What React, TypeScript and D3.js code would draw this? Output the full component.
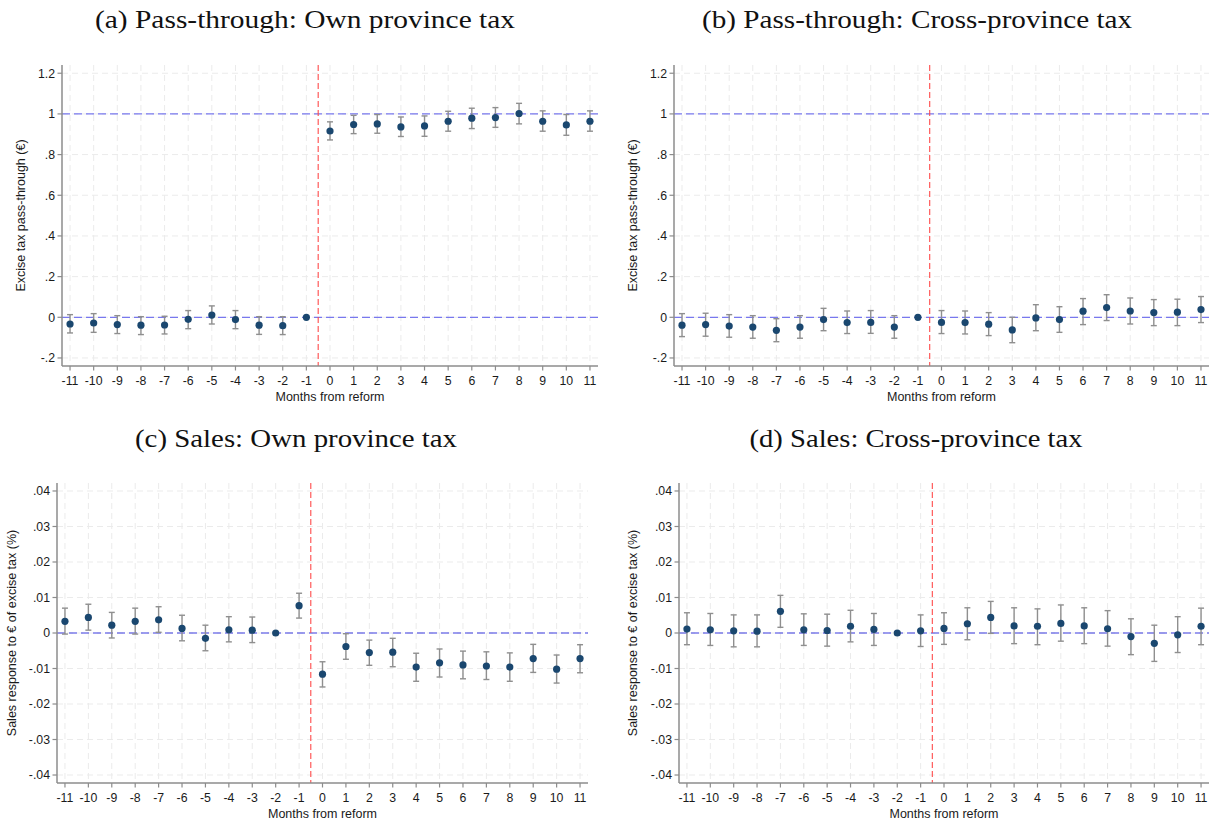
import React from "react";
import * as d3 from "d3";

// Event-study coefficients by month relative to the reform (omitted period has no CI)
const months = [-11, -10, -9, -8, -7, -6, -5, -4, -3, -2, -1, 0, 1, 2, 3, 4, 5, 6, 7, 8, 9, 10, 11];

const aEst = [-0.033, -0.028, -0.036, -0.039, -0.038, -0.010, 0.011, -0.011, -0.039, -0.041, 0, 0.916, 0.948, 0.951, 0.936, 0.941, 0.964, 0.979, 0.982, 1.002, 0.964, 0.946, 0.964];
const aLo = [-0.077, -0.074, -0.080, -0.085, -0.082, -0.056, -0.033, -0.056, -0.084, -0.085, null, 0.872, 0.903, 0.905, 0.889, 0.890, 0.915, 0.928, 0.934, 0.951, 0.915, 0.895, 0.915];
const aHi = [0.013, 0.018, 0.008, 0.003, 0.005, 0.033, 0.056, 0.033, 0.003, 0.003, null, 0.961, 0.993, 0.997, 0.985, 0.990, 1.013, 1.028, 1.031, 1.052, 1.015, 0.997, 1.015];

const bEst = [-0.039, -0.036, -0.043, -0.048, -0.064, -0.048, -0.011, -0.026, -0.025, -0.048, 0, -0.025, -0.026, -0.034, -0.062, -0.003, -0.011, 0.030, 0.048, 0.031, 0.023, 0.025, 0.038];
const bLo = [-0.095, -0.093, -0.098, -0.103, -0.120, -0.103, -0.066, -0.080, -0.079, -0.103, null, -0.080, -0.082, -0.090, -0.125, -0.066, -0.074, -0.036, -0.016, -0.033, -0.041, -0.041, -0.026];
const bHi = [0.018, 0.020, 0.013, 0.008, -0.007, 0.008, 0.044, 0.031, 0.033, 0.008, null, 0.033, 0.031, 0.023, 0.000, 0.062, 0.052, 0.092, 0.111, 0.095, 0.087, 0.089, 0.102];

const cEst = [0.0033, 0.0044, 0.0022, 0.0033, 0.0037, 0.0013, -0.0015, 0.0009, 0.0008, 0, 0.0077, -0.0116, -0.0038, -0.0055, -0.0054, -0.0096, -0.0084, -0.0090, -0.0093, -0.0096, -0.0072, -0.0102, -0.0072];
const cLo = [-0.0003, 0.0008, -0.0014, -0.0003, 0.0002, -0.0022, -0.0050, -0.0025, -0.0027, null, 0.0042, -0.0152, -0.0074, -0.0091, -0.0095, -0.0136, -0.0124, -0.0129, -0.0131, -0.0136, -0.0111, -0.0141, -0.0112];
const cHi = [0.0070, 0.0081, 0.0058, 0.0070, 0.0074, 0.0050, 0.0022, 0.0046, 0.0045, null, 0.0112, -0.0081, -0.0002, -0.0020, -0.0015, -0.0057, -0.0045, -0.0051, -0.0053, -0.0056, -0.0032, -0.0062, -0.0033];

const dEst = [0.0011, 0.0009, 0.0006, 0.0005, 0.0061, 0.0009, 0.0007, 0.0019, 0.0010, 0, 0.0006, 0.0013, 0.0026, 0.0044, 0.0020, 0.0019, 0.0027, 0.0020, 0.0012, -0.0010, -0.0029, -0.0005, 0.0019];
const dLo = [-0.0033, -0.0035, -0.0039, -0.0039, 0.0016, -0.0035, -0.0037, -0.0025, -0.0035, null, -0.0038, -0.0032, -0.0019, -0.0001, -0.0030, -0.0033, -0.0023, -0.0030, -0.0037, -0.0061, -0.0080, -0.0055, -0.0033];
const dHi = [0.0057, 0.0055, 0.0051, 0.0051, 0.0106, 0.0054, 0.0053, 0.0064, 0.0055, null, 0.0051, 0.0057, 0.0071, 0.0089, 0.0071, 0.0068, 0.0079, 0.0071, 0.0063, 0.0040, 0.0022, 0.0046, 0.0070];

const passTicks = [-0.2, 0, 0.2, 0.4, 0.6, 0.8, 1, 1.2];
const passTickLabels = ["-.2", "0", ".2", ".4", ".6", ".8", "1", "1.2"];
const salesTicks = [-0.04, -0.03, -0.02, -0.01, 0, 0.01, 0.02, 0.03, 0.04];
const salesTickLabels = ["-.04", "-.03", "-.02", "-.01", "0", ".01", ".02", ".03", ".04"];

const titles = [
  "(a) Pass-through: Own province tax",
  "(b) Pass-through: Cross-province tax",
  "(c) Sales: Own province tax",
  "(d) Sales: Cross-province tax",
];
const passYTitle = "Excise tax pass-through (\u20ac)";
const salesYTitle = "Sales response to \u20ac of excise tax (%)";
const xTitle = "Months from reform";

const SANS = "'Liberation Sans', Arial, Helvetica, sans-serif";
const SERIF = "'Liberation Serif', 'Times New Roman', serif";

type PanelProps = {
  title: string;
  titleX: number;
  titleY: number;
  titleWidth: number;
  left: number;
  right: number;
  top: number;
  bottom: number;
  yDomain: [number, number];
  ticks: number[];
  tickLabels: string[];
  refLines: number[];
  refColor: string;
  yTitle: string;
  yTitleX: number;
  est: number[];
  lo: (number | null)[];
  hi: (number | null)[];
};

function Panel(p: PanelProps) {
  const x = d3.scaleLinear().domain([-11.34, 11.34]).range([p.left, p.right]);
  const y = d3.scaleLinear().domain(p.yDomain).range([p.bottom, p.top]);
  const axisColor = "#8c8c8c";
  const gridColor = "#ebebeb";
  return (
    <g>
      <text
        x={p.titleX - p.titleWidth / 2}
        y={p.titleY}
        textLength={p.titleWidth}
        lengthAdjust="spacingAndGlyphs"
        fontFamily={SERIF}
        fontSize={26}
        fill="#111"
      >
        {p.title}
      </text>
      {/* grid */}
      {months.map((m) => (
        <line key={"gx" + m} x1={x(m)} x2={x(m)} y1={p.top} y2={p.bottom} stroke={gridColor} strokeWidth={1} strokeDasharray="6,4" />
      ))}
      {p.ticks.map((t) => (
        <line key={"gy" + t} x1={p.left} x2={p.right} y1={y(t)} y2={y(t)} stroke={gridColor} strokeWidth={1} strokeDasharray="6,4" />
      ))}
      {/* reference lines */}
      {p.refLines.map((r) => (
        <line key={"r" + r} x1={p.left} x2={p.right} y1={y(r)} y2={y(r)} stroke={p.refColor} strokeWidth={1.2} strokeDasharray="8,4" />
      ))}
      <line x1={x(-0.5)} x2={x(-0.5)} y1={p.top} y2={p.bottom} stroke="#ff4a4a" strokeWidth={1.1} strokeDasharray="6,3" />
      {/* confidence intervals */}
      {months.map((m, i) => {
        const l = p.lo[i];
        const h = p.hi[i];
        if (l == null || h == null) return null;
        const cx = x(m);
        return (
          <g key={"ci" + m} stroke="#8f8f8f" strokeWidth={1.4}>
            <line x1={cx} x2={cx} y1={y(l)} y2={y(h)} />
            <line x1={cx - 3} x2={cx + 3} y1={y(l)} y2={y(l)} />
            <line x1={cx - 3} x2={cx + 3} y1={y(h)} y2={y(h)} />
          </g>
        );
      })}
      {/* point estimates */}
      {months.map((m, i) => (
        <circle key={"pt" + m} cx={x(m)} cy={y(p.est[i])} r={3.6} fill="#1a476f" />
      ))}
      {/* axes */}
      <line x1={p.left} x2={p.left} y1={p.top} y2={p.bottom} stroke={axisColor} strokeWidth={1.5} />
      <line x1={p.left} x2={p.right} y1={p.bottom} y2={p.bottom} stroke={axisColor} strokeWidth={1.5} />
      {p.ticks.map((t, i) => (
        <g key={"yt" + t}>
          <line x1={p.left - 4.5} x2={p.left} y1={y(t)} y2={y(t)} stroke={axisColor} strokeWidth={1.2} />
          <text x={p.left - 7} y={y(t)} dy="0.35em" textAnchor="end" fontFamily={SANS} fontSize={12.3} fill="#1a1a1a">
            {p.tickLabels[i]}
          </text>
        </g>
      ))}
      {months.map((m) => (
        <g key={"xt" + m}>
          <line x1={x(m)} x2={x(m)} y1={p.bottom} y2={p.bottom + 4.5} stroke={axisColor} strokeWidth={1.2} />
          <text x={x(m)} y={p.bottom + 18.5} textAnchor="middle" fontFamily={SANS} fontSize={12.3} fill="#1a1a1a">
            {String(m)}
          </text>
        </g>
      ))}
      <text x={(p.left + p.right) / 2} y={p.bottom + 34.5} textAnchor="middle" fontFamily={SANS} fontSize={12.5} fill="#1a1a1a">
        {xTitle}
      </text>
      <text
        transform={`translate(${p.yTitleX},${(p.top + p.bottom) / 2}) rotate(-90)`}
        dy="0.35em"
        textAnchor="middle"
        fontFamily={SANS}
        fontSize={12.5}
        fill="#1a1a1a"
      >
        {p.yTitle}
      </text>
    </g>
  );
}

export default function App() {
  const passDomain: [number, number] = [-0.2395, 1.2405];
  const salesDomain: [number, number] = [-0.04225, 0.04225];
  return (
    <div style={{ position: "absolute", left: 0, top: 0 }}>
      <svg width={1214} height={828} style={{ display: "block", background: "#fff" }}>
        <rect width={1214} height={828} fill="#fff" />
        <Panel
          title={titles[0]} titleX={305} titleY={28} titleWidth={420}
          left={62} right={598} top={65} bottom={366}
          yDomain={passDomain} ticks={passTicks} tickLabels={passTickLabels}
          refLines={[0, 1]} refColor="#7878ee"
          yTitle={passYTitle} yTitleX={21}
          est={aEst} lo={aLo} hi={aHi}
        />
        <Panel
          title={titles[1]} titleX={917} titleY={28} titleWidth={430}
          left={674} right={1209} top={65} bottom={366}
          yDomain={passDomain} ticks={passTicks} tickLabels={passTickLabels}
          refLines={[0, 1]} refColor="#7878ee"
          yTitle={passYTitle} yTitleX={633}
          est={bEst} lo={bLo} hi={bHi}
        />
        <Panel
          title={titles[2]} titleX={296} titleY={447} titleWidth={322}
          left={57} right={588} top={483} bottom={783}
          yDomain={salesDomain} ticks={salesTicks} tickLabels={salesTickLabels}
          refLines={[0]} refColor="#3a3ae0"
          yTitle={salesYTitle} yTitleX={12}
          est={cEst} lo={cLo} hi={cHi}
        />
        <Panel
          title={titles[3]} titleX={916} titleY={447} titleWidth={333}
          left={679} right={1209} top={483} bottom={783}
          yDomain={salesDomain} ticks={salesTicks} tickLabels={salesTickLabels}
          refLines={[0]} refColor="#3a3ae0"
          yTitle={salesYTitle} yTitleX={633}
          est={dEst} lo={dLo} hi={dHi}
        />
      </svg>
    </div>
  );
}
